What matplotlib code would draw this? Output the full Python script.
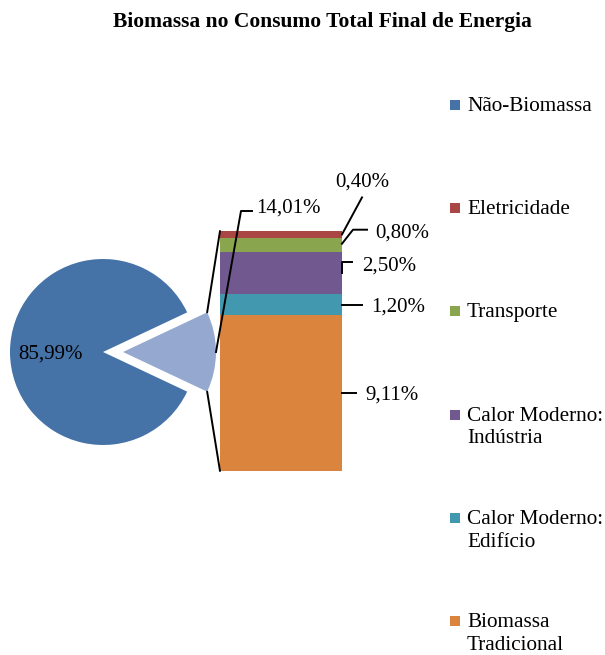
import matplotlib
matplotlib.use('Agg')
import matplotlib.pyplot as plt
import numpy as np
from matplotlib.lines import Line2D
from matplotlib.patches import Rectangle, ConnectionPatch

plt.rcParams['font.family'] = ['Liberation Serif', 'DejaVu Serif']

title = 'Biomassa no Consumo Total Final de Energia'

# breakdown of the biomass share, bottom to top of the stacked bar
bar_labels = ['Biomassa\nTradicional', 'Calor Moderno:\nEdifício',
              'Calor Moderno:\nIndústria', 'Transporte', 'Eletricidade']
bar_values = [9.11, 1.20, 2.50, 0.80, 0.40]
bar_colors = ['#DB843D', '#4198AF', '#71588F', '#89A54E', '#AA4643']

# pie: everything else vs. the biomass total
pie_labels = ['Não-Biomassa', 'Biomassa']
pie_values = [85.99, round(sum(bar_values), 2)]
pie_colors = ['#4572A7', '#95A9D0']

W, H = 605, 655
FS = 15
LEG_FS = 15.3
fig = plt.figure(figsize=(W / 100, H / 100), dpi=100)
inv = fig.transFigure.inverted()


def px_axes(left, top, right, bottom):
    return fig.add_axes([left / W, 1 - bottom / H, (right - left) / W, (bottom - top) / H])


def pct(v):
    return f'{v:.2f}%'.replace('.', ',')


def leader(ax, anchor, offsets, text, text_off):
    # offsets are in image pixels (y pointing down) relative to the anchor
    x0, y0 = ax.transData.transform(anchor)
    pts = inv.transform([(x0 + dx, y0 - dy) for dx, dy in offsets])
    fig.add_artist(Line2D(pts[:, 0], pts[:, 1], color='black', lw=1.4))
    tx, ty = inv.transform((x0 + text_off[0], y0 - text_off[1] - 2))
    fig.text(tx, ty, text, ha='left', va='center', fontsize=FS)


# ---- pie ----
r_px, cx, cy = 93, 103, 352
ax_pie = px_axes(0, 250, 230, 455)
half = pie_values[1] / 100 * 360 / 2
explode = 20 / r_px
wedges, _ = ax_pie.pie(pie_values, colors=pie_colors, startangle=half,
                       explode=[0, explode], radius=1,
                       wedgeprops=dict(linewidth=0))
for w in wedges:
    w.set_clip_on(False)
ax_pie.set_xlim((0 - cx) / r_px, (230 - cx) / r_px)
ax_pie.set_ylim((cy - 455) / r_px, (cy - 250) / r_px)
ax_pie.set_aspect('auto')
ax_pie.axis('off')

mid0 = np.deg2rad(half + pie_values[0] / 100 * 180)
ax_pie.text(0.56 * np.cos(mid0), 0.56 * np.sin(mid0), pct(pie_values[0]),
            ha='center', va='center_baseline', fontsize=FS)
leader(ax_pie, (1 + explode, 0), [(0, 0), (25, -141), (36, -141)],
       pct(pie_values[1]), (40, -146))

# ---- stacked bar ----
total = sum(bar_values)
ax_bar = px_axes(220, 231, 342, 471)
bottom = 0
mids = []
for v, c in zip(bar_values, bar_colors):
    ax_bar.bar(0, v, width=1, bottom=bottom, color=c, linewidth=0)
    mids.append(bottom + v / 2)
    bottom += v
ax_bar.set_xlim(-0.5, 0.5)
ax_bar.set_ylim(0, total)
ax_bar.axis('off')

label_paths = [
    ([(0, 0), (14, 0)], (23, 0)),
    ([(0, 0), (20, 0)], (29, 0)),
    ([(0, 0), (0, -11), (10, -11)], (20, -9)),
    ([(0, -1), (11, -15), (25, -15)], (33, -14)),
    ([(0, 0), (20, -37)], (-7, -54)),
]
for v, m, (path, toff) in zip(bar_values, mids, label_paths):
    leader(ax_bar, (0.5, m), path, pct(v), toff)

# lines joining the pulled-out slice to the bar
a = np.deg2rad(half)
for sgn, yb in [(1, total), (-1, 0)]:
    con = ConnectionPatch(xyA=(explode + np.cos(a), sgn * np.sin(a)), coordsA=ax_pie.transData,
                          xyB=(-0.5, yb), coordsB=ax_bar.transData,
                          color='black', lw=1.4)
    fig.add_artist(con)

# ---- title ----
fig.text(322 / W, 1 - 20 / H, title, ha='center', va='center_baseline',
         fontsize=15.5, fontweight='bold')

# ---- legend ----
leg_labels = [pie_labels[0]] + bar_labels[::-1]
leg_colors = [pie_colors[0]] + bar_colors[::-1]
for yc, lab, col in zip(np.linspace(105, 621, len(leg_labels)), leg_labels, leg_colors):
    fig.add_artist(Rectangle((450 / W, 1 - (yc + 5) / H), 10 / W, 10 / H,
                             transform=fig.transFigure, color=col, lw=0))
    fig.text(467 / W, 1 - (yc - 8) / H, lab, ha='left', va='top',
             fontsize=LEG_FS, linespacing=1.27)

fig.savefig('out.png', dpi=100)
